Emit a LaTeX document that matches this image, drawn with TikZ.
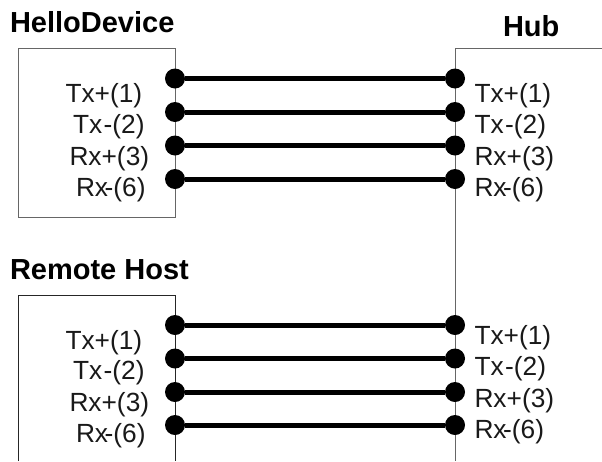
\documentclass[tikz,border=0pt]{standalone}
\usepackage{fontspec}
\setmainfont{Liberation Sans}
\newcommand{\txm}{Tx\kern1.5pt-(2)}
\newcommand{\rxm}{Rx\kern-3.5pt-(6)}
\tikzset{
  x=1pt,y=-1pt,
  pinlabel/.style={anchor=base west,inner sep=0pt,outer sep=0pt,font=\fontsize{26.3}{26.3}\selectfont,text=black!90},
  titlelabel/.style={anchor=base west,inner sep=0pt,outer sep=0pt,font=\fontsize{29}{29}\selectfont\bfseries,text=black},
  devicebox/.style={draw=black!60,line width=1pt},
  darkbox/.style={draw=black!85,line width=1pt},
  pindot/.style={circle,fill=black,inner sep=0pt,minimum size=20pt},
  wire/.style={line width=5pt,black}
}
\begin{document}
\begin{tikzpicture}
\useasboundingbox (0,0) rectangle (602,461);
\fill[white] (0,0) rectangle (602,461);
% boxes
\draw[devicebox] (18,48.5) rectangle (175,217);
\draw[darkbox] (18,461) -- (18,295) -- (175,295) -- (175,461);
\draw[devicebox] (602,48.5) -- (455,48.5) -- (455,461);
% titles
\node[titlelabel] (t1) at (10,32.5) {HelloDevice};
\node[titlelabel] (t2) at (503,36) {Hub};
\node[titlelabel] (t3) at (10,279) {Remote Host};
% dots
\foreach \n/\y in {a/78.5,b/112,c/145.5,d/179,e/325,f/358.5,g/392,h/425}{
  \node[pindot] (l\n) at (175,\y) {};
  \node[pindot] (r\n) at (455,\y) {};
  \draw[wire] (l\n) -- (r\n);
}
% left labels
\node[pinlabel] (p1) at (65.5,102.5) {Tx+(1)};
\node[pinlabel] (p2) at (73,133.5) {\txm};
\node[pinlabel] (p3) at (69.5,165) {Rx+(3)};
\node[pinlabel] (p4) at (76,196.5) {\rxm};
\node[pinlabel] (p5) at (65.5,349) {Tx+(1)};
\node[pinlabel] (p6) at (73,379.5) {\txm};
\node[pinlabel] (p7) at (69.5,411) {Rx+(3)};
\node[pinlabel] (p8) at (76,442.5) {\rxm};
% right labels
\node[pinlabel] (q1) at (474.5,102) {Tx+(1)};
\node[pinlabel] (q2) at (474.5,133.5) {\txm};
\node[pinlabel] (q3) at (474.5,165) {Rx+(3)};
\node[pinlabel] (q4) at (474.5,196.5) {\rxm};
\node[pinlabel] (q5) at (474.5,344) {Tx+(1)};
\node[pinlabel] (q6) at (474.5,375) {\txm};
\node[pinlabel] (q7) at (474.5,407) {Rx+(3)};
\node[pinlabel] (q8) at (474.5,438) {\rxm};
\end{tikzpicture}
\end{document}
